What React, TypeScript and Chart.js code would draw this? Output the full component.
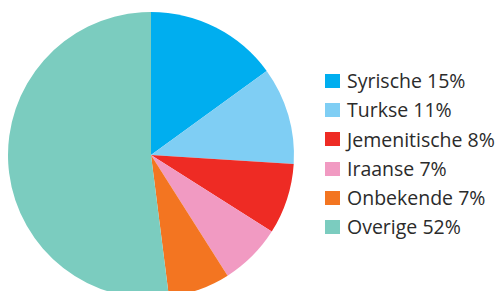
import React, { useEffect, useRef } from "react";
import { Chart, registerables } from "chart.js";

Chart.register(...registerables);

const labels = ["Syrische", "Turkse", "Jemenitische", "Iraanse", "Onbekende", "Overige"];
const values = [15, 11, 8, 7, 7, 52];
const colors = ["#00AEEF", "#7FCEF4", "#EE2B24", "#F19AC2", "#F37521", "#7BCCBF"];

export default function App() {
  const ref = useRef<HTMLCanvasElement | null>(null);

  useEffect(() => {
    if (!ref.current) return;
    const chart = new Chart(ref.current, {
      type: "pie",
      data: {
        labels,
        datasets: [
          {
            data: values,
            backgroundColor: colors,
            borderWidth: 0,
          },
        ],
      },
      options: {
        responsive: false,
        animation: false,
        devicePixelRatio: 1,
        layout: { padding: { left: 8, top: 12, right: 6, bottom: 12 } },
        plugins: {
          legend: { display: false },
          tooltip: { enabled: false },
        },
      },
    });
    return () => chart.destroy();
  }, []);

  return (
    <div
      style={{
        position: "fixed",
        left: 0,
        top: 0,
        width: 495,
        height: 291,
        overflow: "hidden",
        background: "#fff",
      }}
    >
      <canvas
        ref={ref}
        width={300}
        height={310}
        style={{ position: "absolute", left: 0, top: 0, width: 300, height: 310 }}
      />
      {labels.map((l, i) => (
        <React.Fragment key={l}>
          <div
            style={{
              position: "absolute",
              left: 325,
              top: 74 + i * 29.2,
              width: 15,
              height: 14,
              background: colors[i],
            }}
          />
          <div
            style={{
              position: "absolute",
              left: 347,
              top: 71.1 + i * 29.2,
              fontFamily: "'Open Sans', sans-serif",
              fontSize: 19.5,
              lineHeight: "20px",
              color: "#2b2b2b",
              whiteSpace: "nowrap",
            }}
          >
            {l} {values[i]}%
          </div>
        </React.Fragment>
      ))}
    </div>
  );
}
